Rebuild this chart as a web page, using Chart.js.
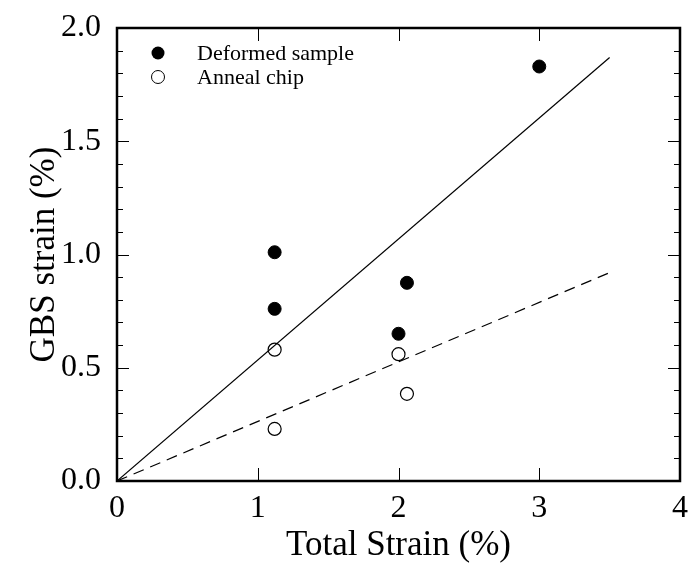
<!DOCTYPE html>
<html>
<head>
<meta charset="utf-8">
<script src="https://cdn.jsdelivr.net/npm/chart.js@4/dist/chart.umd.min.js"></script>
<style>
  html, body { margin: 0; padding: 0; background: #fff; }
  #wrap { width: 689px; height: 567px; }
</style>
</head>
<body>
<div id="wrap"><canvas id="chart"></canvas></div>
<script>
// values
const deformedX = [1.12, 1.12, 2.0, 2.06, 3.0];
const deformedY = [1.01, 0.76, 0.65, 0.875, 1.83];
const annealX = [1.12, 1.12, 2.0, 2.06];
const annealY = [0.58, 0.23, 0.56, 0.385];
const fitX = [0, 3.5];
const deformedFit = [0, 1.87];
const annealFit = [0, 0.92];
const xTicks = [0, 1, 2, 3, 4];
const yTicks = [0.0, 0.5, 1.0, 1.5, 2.0];

const serif = "'Liberation Serif', 'DejaVu Serif', serif";

function pts(xs, ys) {
  return xs.map((x, i) => ({ x: x, y: ys[i] }));
}

// inward ticks + closed frame, then the legend inside the plot
const framePlugin = {
  id: 'frame',
  afterDatasetsDraw(chart) {
    const ctx = chart.ctx;
    const a = chart.chartArea;
    const xs = chart.scales.x;
    const ys = chart.scales.y;
    ctx.save();
    ctx.strokeStyle = '#000';
    ctx.lineWidth = 1;
    ctx.beginPath();
    for (let i = 1; i < 20; i++) {
      const v = i / 10;
      const py = Math.round(ys.getPixelForValue(v)) + 0.5;
      const len = (i % 5 === 0) ? 12 : 6;
      ctx.moveTo(a.left, py); ctx.lineTo(a.left + len, py);
      ctx.moveTo(a.right, py); ctx.lineTo(a.right - len, py);
    }
    xTicks.slice(1, -1).forEach(v => {
      const px = Math.round(xs.getPixelForValue(v)) + 0.5;
      ctx.moveTo(px, a.bottom); ctx.lineTo(px, a.bottom - 13);
      ctx.moveTo(px, a.top); ctx.lineTo(px, a.top + 13);
    });
    ctx.stroke();
    ctx.lineWidth = 2.5;
    ctx.strokeRect(a.left, a.top, a.right - a.left, a.bottom - a.top);

    // legend
    ctx.font = '22px ' + serif;
    ctx.textBaseline = 'middle';
    ctx.fillStyle = '#000';
    const lx = a.left + 41;
    const items = [
      { label: 'Deformed sample', filled: true },
      { label: 'Anneal chip', filled: false }
    ];
    items.forEach((it, i) => {
      const ly = a.top + 25 + i * 24;
      ctx.beginPath();
      ctx.arc(lx, ly, 6.5, 0, Math.PI * 2);
      ctx.lineWidth = 1;
      if (it.filled) { ctx.fill(); } else { ctx.stroke(); }
      ctx.fillText(it.label, lx + 39, ly + 1);
    });
    ctx.restore();
  }
};

new Chart(document.getElementById('chart'), {
  type: 'scatter',
  data: {
    datasets: [
      {
        label: 'Deformed fit',
        data: pts(fitX, deformedFit),
        showLine: true,
        borderColor: '#000',
        borderWidth: 1.2,
        pointRadius: 0
      },
      {
        label: 'Anneal fit',
        data: pts(fitX, annealFit),
        showLine: true,
        borderColor: '#000',
        borderWidth: 1.2,
        borderDash: [11, 7],
        pointRadius: 0
      },
      {
        label: 'Deformed sample',
        data: pts(deformedX, deformedY),
        pointRadius: 6.5,
        pointBackgroundColor: '#000',
        pointBorderColor: '#000',
        pointBorderWidth: 1
      },
      {
        label: 'Anneal chip',
        data: pts(annealX, annealY),
        pointRadius: 6.5,
        pointBackgroundColor: 'rgba(0,0,0,0)',
        pointBorderColor: '#000',
        pointBorderWidth: 1.2
      }
    ]
  },
  options: {
    responsive: true,
    maintainAspectRatio: false,
    animation: false,
    layout: { padding: { top: 28, right: 9, left: 0, bottom: 0 } },
    plugins: {
      legend: { display: false },
      tooltip: { enabled: false }
    },
    scales: {
      x: {
        type: 'linear',
        min: 0, max: 4,
        afterBuildTicks(scale) { scale.ticks = xTicks.map(v => ({ value: v })); },
        afterFit(scale) {
          scale.height = 86;
          scale.paddingLeft = 0;
          scale.paddingRight = 0;
        },
        grid: { display: false, drawTicks: false },
        border: { display: false },
        ticks: {
          font: { family: serif, size: 32 },
          color: '#000',
          padding: 8,
          maxRotation: 0,
          callback: v => String(v)
        },
        title: {
          display: true,
          text: 'Total Strain (%)',
          font: { family: serif, size: 35 },
          color: '#000',
          padding: { top: 0, bottom: 0 }
        }
      },
      y: {
        type: 'linear',
        min: 0, max: 2,
        afterBuildTicks(scale) { scale.ticks = yTicks.map(v => ({ value: v })); },
        afterFit(scale) {
          scale.width = 117;
          scale.paddingTop = 0;
          scale.paddingBottom = 0;
        },
        grid: { display: false, drawTicks: false },
        border: { display: false },
        ticks: {
          font: { family: serif, size: 32 },
          color: '#000',
          padding: 16,
          callback: v => v.toFixed(1)
        },
        title: {
          display: true,
          text: 'GBS strain (%)',
          font: { family: serif, size: 35 },
          color: '#000',
          padding: { top: 24, bottom: 0 }
        }
      }
    }
  },
  plugins: [framePlugin]
});
</script>
</body>
</html>
